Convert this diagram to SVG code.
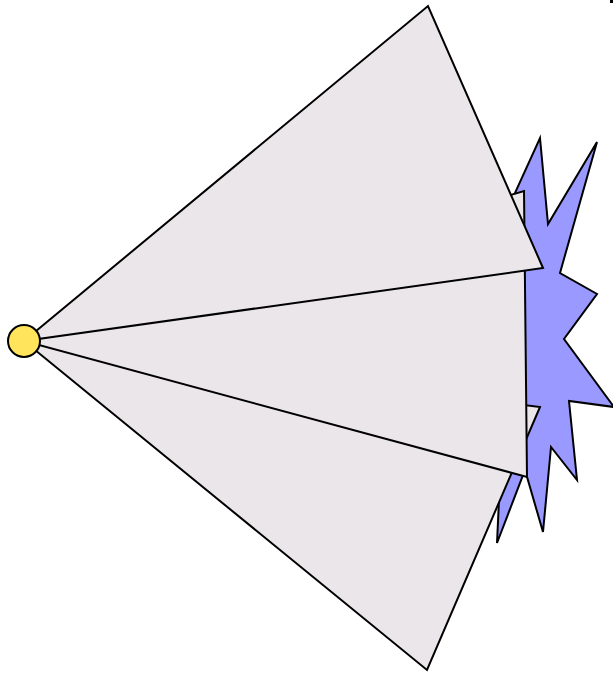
<svg xmlns="http://www.w3.org/2000/svg" width="613" height="673" viewBox="0 0 613 673">
<style>
.tri{fill:#eae6ea;stroke:#000;stroke-width:2;stroke-linejoin:miter}
.star{fill:#9999ff;stroke:#000;stroke-width:2;stroke-linejoin:miter}
.dot{fill:#ffe45c;stroke:#000;stroke-width:2}
</style>
<rect width="613" height="673" fill="#fff"/>
<g id="burst">
<polygon class="star" points="540,138 548,224 597,142 560,273 597,294 564,339 614,407 569,401 577,480 551,447 543,532 525,470 497,543 499,500 500,420 490,300 505,215"/>
</g>
<g id="connectors">
<g id="fan-lower"><polygon class="tri" points="24,341 540,407 427,670"/></g>
<g id="fan-middle"><polygon class="tri" points="24,341 524,191 527,477"/></g>
<g id="fan-upper"><polygon class="tri" points="24,341 428,6 543,268"/></g>
</g>
<g id="source">
<circle class="dot" cx="24" cy="341" r="16"/>
</g>
<rect x="610" y="0" width="3" height="3" fill="#000"/>
</svg>
